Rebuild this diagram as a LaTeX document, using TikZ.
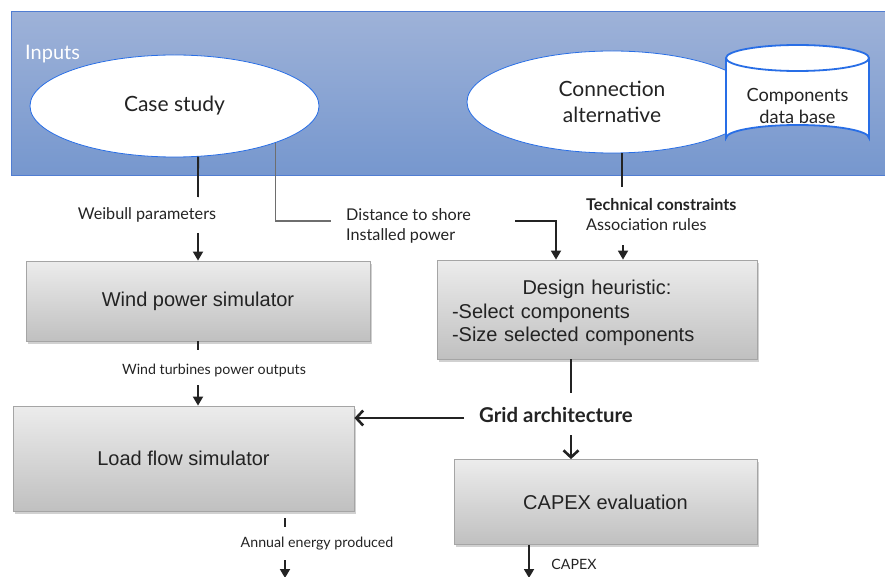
\documentclass[tikz,border=0pt]{standalone}
\usepackage{fontspec}
\setmainfont{Liberation Sans}
\newfontfamily\latofont{Lato}
\usetikzlibrary{shapes.geometric,arrows.meta,shadows}

\definecolor{inputtop}{RGB}{158,178,216}
\definecolor{inputbot}{RGB}{118,151,206}
\definecolor{inputedge}{RGB}{80,125,210}
\definecolor{ovaledge}{RGB}{40,110,230}
\definecolor{boxtop}{RGB}{236,236,236}
\definecolor{boxbot}{RGB}{192,192,192}
\definecolor{boxedge}{RGB}{165,165,165}
\definecolor{ink}{RGB}{35,35,35}
\definecolor{greyline}{RGB}{110,110,110}

\begin{document}
\begin{tikzpicture}[x=1pt,y=-1pt,
  inputpanel/.style={rectangle, draw=inputedge, line width=0.8pt,
    top color=inputtop, bottom color=inputbot, inner sep=0pt},
  inputoval/.style={ellipse, draw=ovaledge, line width=0.8pt, fill=white,
    inner sep=0pt, text=ink, align=center,
    font=\latofont\fontsize{21}{26}\selectfont},
  procbox/.style={rectangle, draw=boxedge, line width=0.8pt,
    top color=boxtop, bottom color=boxbot, inner sep=0pt, text=ink,
    font=\fontsize{20}{24}\selectfont,
    drop shadow={shadow xshift=1.5pt, shadow yshift=-2.5pt, opacity=0.3, fill=black!60}},
  flowlabel/.style={font=\latofont\fontsize{16.2}{20}\selectfont, text=ink, inner sep=0pt},
  smalllabel/.style={font=\latofont\fontsize{14.2}{17}\selectfont, text=ink, inner sep=0pt},
  link/.style={draw=ink, line width=1.8pt},
  tip/.style={-{Triangle[length=9pt,width=10pt]}},
  heavy/.style={draw=ink, line width=2.6pt},
  barb/.style={-{Straight Barb[length=7pt,width=15pt]}},
]
\useasboundingbox (0,0) rectangle (885,577);

% inputs panel
\node[inputpanel, anchor=north west, minimum width=890, minimum height=164] (panel) at (11,11) {};
\node[anchor=west, text=white, inner sep=0pt, font=\latofont\fontsize{20}{24}\selectfont] (inlabel) at (25,54) {Inputs};

\node[inputoval, minimum width=289, minimum height=102] (cs) at (174.5,106) {Case study};
\node[inputoval, minimum width=290, minimum height=102] (ca) at (612,102) {Connection\\alternative};

% components data base cylinder
\fill[white] (726,58) -- (726,138)
  arc[start angle=180, end angle=360, x radius=71.5, y radius=13] -- (869,58) -- cycle;
\draw[ovaledge, line width=1.8pt] (726,58) -- (726,138)
  arc[start angle=180, end angle=360, x radius=71.5, y radius=13] -- (869,58);
\draw[ovaledge, line width=1.8pt, fill=white] (797.5,58) ellipse [x radius=71.5, y radius=13];
\node[inner sep=0pt, align=center, text=ink, font=\latofont\fontsize{18.2}{22}\selectfont] (db) at (797.5,106) {Components\\data base};

% processing blocks
\node[procbox, minimum width=344, minimum height=80] (wind) at (198,301) {Wind power simulator};
\node[procbox, minimum width=320, minimum height=99] (design) at (597,309.5) {};
\node[inner sep=0pt, text width=290, align=left, text=ink,
  font=\fontsize{20}{23.5}\selectfont] (designtext) at (597,313)
  {\makebox[290pt][c]{Design heuristic:}\\-Select components\\-Size selected components};
\node[procbox, minimum width=341, minimum height=105] (lf) at (183.5,458.5) {Load flow simulator};
\node[procbox, minimum width=303, minimum height=85] (capex) at (605.5,502) {CAPEX evaluation};

% flow labels
\node[flowlabel] (weibull) at (147,215) {Weibull parameters};
\node[flowlabel, anchor=west, align=left] (dist) at (346,226) {Distance to shore\\Installed power};
\node[flowlabel, anchor=west, align=left] (tech) at (586,215)
  {{\bfseries Technical constraints}\\Association rules};
\node[smalllabel] (wto) at (214,370) {Wind turbines power outputs};
\node[font=\latofont\bfseries\fontsize{20.4}{24}\selectfont, text=ink, inner sep=0pt] (grid) at (556,415) {Grid architecture};
\node[smalllabel] (aep) at (317,544) {Annual energy produced};
\node[smalllabel] (capexout) at (574,564) {CAPEX};

% break points of the connectors around their labels
\coordinate (wb1) at (198,197);
\coordinate (wb2) at (198,233);
\coordinate (ds1) at (274,221);
\coordinate (ds2) at (331,221);
\coordinate (ds3) at (515,221);
\coordinate (ds4) at (556,221);
\coordinate (tc1) at (622,187);
\coordinate (tc2) at (623,245);
\coordinate (wo1) at (198,350);
\coordinate (wo2) at (198,385);
\coordinate (ga1) at (571,393);
\coordinate (ga2) at (464,418);
\coordinate (ga3) at (571,435);
\coordinate (ae1) at (285,527);
\coordinate (ae2) at (285,560);
\coordinate (ae3) at (285,578);
\coordinate (cx1) at (529,578);

% connectors
\draw[link] (cs.-65) -- (wb1);
\draw[link, tip] (wb2) -- (wind.north);
\draw[greyline, line width=1.2pt] (cs.-20.3) |- (ds2);
\draw[link, tip] (ds3) -- (ds4) -- (ds4 |- design.north);
\draw[link] (ca.south -| tc1) -- (tc1);
\draw[link, tip] (tc2) -- (tc2 |- design.north);
\draw[link] (wind.south) -- (wo1);
\draw[link, tip] (wo2) -- (lf.north -| wo2);
\draw[heavy] (design.south -| ga1) -- (ga1);
\draw[heavy, barb] (ga2) -- (ga2 -| lf.east);
\draw[heavy, barb] (ga3) -- (ga3 |- capex.north);
\draw[link] (lf.south -| ae1) ++(0,7) -- (ae1);
\draw[link, tip] (ae2) -- (ae3);
\draw[link, tip] (capex.south -| cx1) -- (cx1);
\end{tikzpicture}
\end{document}
